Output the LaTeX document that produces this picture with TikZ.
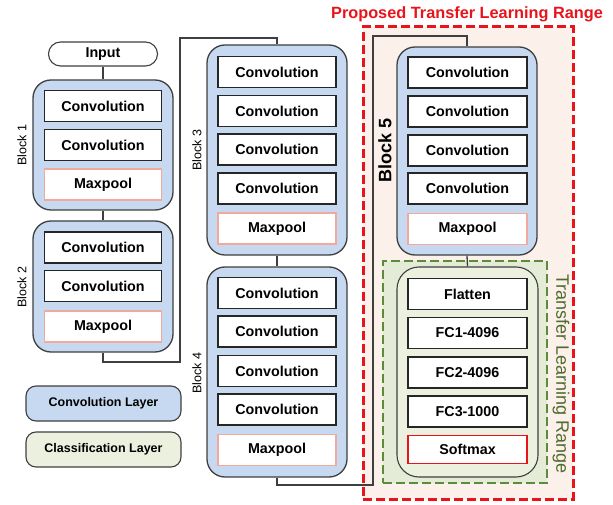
\documentclass[tikz,border=0pt]{standalone}
\usepackage{fontspec}
\setmainfont{Liberation Sans}
\definecolor{blockblue}{HTML}{C6D9F0}
\definecolor{clsgreen}{HTML}{EBF1DE}
\definecolor{grnfill}{HTML}{E4EBD6}
\definecolor{grnline}{HTML}{5B8C3A}
\definecolor{grntext}{HTML}{4F6B2E}
\definecolor{redline}{HTML}{E8141B}
\definecolor{redfill}{HTML}{FBF1EA}
\definecolor{poolline}{HTML}{F2A99B}
\definecolor{edge}{HTML}{3F3F3F}
\tikzset{
  cont/.style={draw=edge, line width=1.3pt, fill=blockblue, rounded corners=18pt, minimum width=140pt, minimum height=#1},
  clscont/.style={draw=edge, line width=1.1pt, fill=clsgreen, rounded corners=22pt, minimum width=141pt, minimum height=210pt},
  layerbox/.style={draw=black!85, line width=1.7pt, fill=white, minimum width=117pt, minimum height=31pt, inner sep=0pt, font=\fontsize{14.3}{16}\selectfont\bfseries},
  poolbox/.style={layerbox, draw=poolline, line width=1.2pt},
  softbox/.style={layerbox, draw=redline, line width=1.3pt, minimum height=28pt},
  blabel/.style={rotate=90, font=\fontsize{12.5}{14}\selectfont},
  conn/.style={draw=edge, line width=1.3pt},
  legendbox/.style={draw=edge, line width=1.1pt, rounded corners=10pt, minimum width=155pt, minimum height=35pt, font=\fontsize{12.5}{14}\selectfont\bfseries},
}
\begin{document}
\begin{tikzpicture}[x=1pt,y=-1pt]
\useasboundingbox (0,0) rectangle (613,505);
% transfer ranges
\node[draw=redline, fill=redfill, line width=3pt, dash pattern=on 9pt off 4pt, minimum width=210pt, minimum height=472pt, inner sep=0pt] (redbox) at (468,263) {};
\node[text=redline, font=\fontsize{16.3}{18}\selectfont\bfseries] (redtitle) at (467,14) {Proposed Transfer Learning Range};
\node[draw=grnline, fill=grnfill, line width=2.5pt, dash pattern=on 9pt off 4pt, minimum width=164pt, minimum height=222pt, inner sep=0pt] (grnbox) at (465,372) {};
\node[rotate=-90, text=grntext, font=\fontsize{18}{20}\selectfont] (grntitle) at (561,374) {Transfer Learning Range};

% input
\node[draw=edge, line width=1.1pt, fill=white, rounded corners=12pt, minimum width=109pt, minimum height=24pt, font=\fontsize{14.3}{16}\selectfont\bfseries] (input) at (103,54) {Input};

% block 1
\node[cont=130pt] (b1) at (103,145) {};
\node[layerbox] (b1c1) at (103,106) {Convolution};
\node[layerbox] (b1c2) at (103,145) {Convolution};
\node[poolbox] (b1p) at (103,184.5) {Maxpool};
\node[blabel] (b1l) at (22,145) {Block 1};

% block 2
\node[cont=131pt] (b2) at (103,286.5) {};
\node[layerbox] (b2c1) at (103,247.5) {Convolution};
\node[layerbox] (b2c2) at (103,286) {Convolution};
\node[poolbox] (b2p) at (103,326.5) {Maxpool};
\node[blabel] (b2l) at (22,287) {Block 2};

% block 3
\node[cont=210pt] (b3) at (277,150) {};
\node[layerbox, minimum width=118pt] (b3c1) at (277,72) {Convolution};
\node[layerbox, minimum width=118pt] (b3c2) at (277,111) {Convolution};
\node[layerbox, minimum width=118pt] (b3c3) at (277,149.5) {Convolution};
\node[layerbox, minimum width=118pt] (b3c4) at (277,188.5) {Convolution};
\node[poolbox, minimum width=118pt] (b3p) at (277,228.5) {Maxpool};
\node[blabel] (b3l) at (197,150) {Block 3};

% block 4
\node[cont=210pt] (b4) at (277,372) {};
\node[layerbox, minimum width=118pt] (b4c1) at (277,293) {Convolution};
\node[layerbox, minimum width=118pt] (b4c2) at (277,331.5) {Convolution};
\node[layerbox, minimum width=118pt] (b4c3) at (277,371) {Convolution};
\node[layerbox, minimum width=118pt] (b4c4) at (277,409.5) {Convolution};
\node[poolbox, minimum width=118pt] (b4p) at (277,450) {Maxpool};
\node[blabel] (b4l) at (197,373) {Block 4};

% block 5
\node[cont=208pt] (b5) at (467,151) {};
\node[layerbox, minimum width=119pt] (b5c1) at (467.5,72.5) {Convolution};
\node[layerbox, minimum width=119pt] (b5c2) at (467.5,111.5) {Convolution};
\node[layerbox, minimum width=119pt] (b5c3) at (467.5,150.5) {Convolution};
\node[layerbox, minimum width=119pt] (b5c4) at (467.5,188.5) {Convolution};
\node[poolbox, minimum width=119pt] (b5p) at (467.5,229) {Maxpool};
\node[blabel, font=\fontsize{18}{20}\selectfont\bfseries] (b5l) at (385,150) {Block 5};

% classification
\node[clscont] (cls) at (467.5,372) {};
\node[layerbox, minimum width=119pt] (fl) at (467.5,294) {Flatten};
\node[layerbox, minimum width=119pt] (fc1) at (467.5,333) {FC1-4096};
\node[layerbox, minimum width=119pt] (fc2) at (467.5,372.5) {FC2-4096};
\node[layerbox, minimum width=119pt] (fc3) at (467.5,411.5) {FC3-1000};
\node[softbox, minimum width=119pt] (sm) at (467.5,449.5) {Softmax};

% legend
\node[legendbox, fill=blockblue] (lg1) at (103.5,403.5) {Convolution Layer};
\node[legendbox, fill=clsgreen] (lg2) at (103.5,449.5) {Classification Layer};

% connectors
\coordinate (k1) at (180,362);
\coordinate (k2) at (180,38);
\coordinate (k3) at (373,485);
\coordinate (k4) at (373,36);
\draw[conn] (input) -- (b1);
\draw[conn] (b1) -- (b2);
\draw[conn] (b2.south) |- (k1) -- (k2) -| (b3.north);
\draw[conn] (b3) -- (b4);
\draw[conn] (b4.south) |- (k3) -- (k4) -| (b5.north);
\draw[conn] (b5.south) -- (cls.north);
\end{tikzpicture}
\end{document}
